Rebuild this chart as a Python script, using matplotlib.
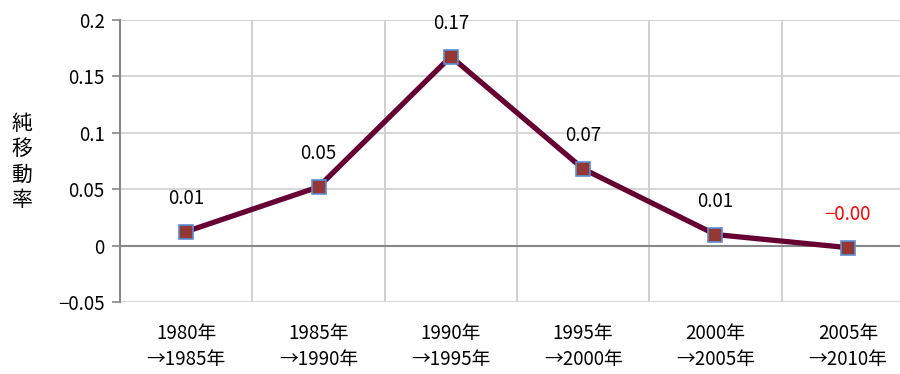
import matplotlib
matplotlib.use('Agg')
import matplotlib.pyplot as plt
import numpy as np

plt.rcParams['font.family'] = ['Noto Sans CJK JP', 'DejaVu Sans']

# Net migration rate by five-year period.
periods = ['1980年\n→1985年', '1985年\n→1990年', '1990年\n→1995年',
           '1995年\n→2000年', '2000年\n→2005年', '2005年\n→2010年']
rates = [0.0124, 0.052, 0.1676, 0.068, 0.0098, -0.0018]
labels = ['0.01', '0.05', '0.17', '0.07', '0.01', '\u22120.00']
label_colors = ['black', 'black', 'black', 'black', 'black', 'red']
yticks = [-0.05, 0, 0.05, 0.1, 0.15, 0.2]
ytick_labels = ['\u22120.05', '0', '0.05', '0.1', '0.15', '0.2']

fig = plt.figure(figsize=(9, 3.74), dpi=100)
ax = fig.add_axes([120 / 900, 72 / 374, 794 / 900, 282 / 374])

x = np.arange(len(periods))
ax.set_xlim(-0.5, len(periods) - 0.5)
ax.set_ylim(-0.05, 0.2)

# Grid lines between categories and at each y tick.
for b in np.arange(0.5, len(periods) - 0.5, 1):
    ax.axvline(b, color='#c8c8c8', lw=1.2, zorder=1)
for yv in yticks:
    ax.axhline(yv, color='#d0d0d0', lw=1.2, zorder=1)
ax.axhline(0, color='#888888', lw=1.5, zorder=2)

ax.plot(x, rates, color='#660033', lw=3.8, zorder=3,
        marker='s', markersize=10, markerfacecolor='#953735',
        markeredgecolor='#5b8fd0', markeredgewidth=1.2)

for xi, v, t, c in zip(x, rates, labels, label_colors):
    ax.annotate(t, (xi, v), xytext=(0, 24), textcoords='offset points',
                ha='center', va='center', fontsize=13.5, color=c)

for s in ['top', 'right', 'bottom']:
    ax.spines[s].set_visible(False)
ax.spines['left'].set_color('#888888')
ax.spines['left'].set_linewidth(1.5)

ax.set_yticks(yticks)
ax.set_yticklabels(ytick_labels, fontsize=13.5)
ax.tick_params(axis='y', length=6, width=1.2, color='#888888', pad=5)
ax.set_xticks(x)
ax.set_xticklabels(periods, fontsize=13.5, linespacing=1.35)
ax.tick_params(axis='x', length=0, pad=15)

fig.text(22 / 900, 1 - 162 / 374, '\n'.join('純移動率'), ha='center',
         va='center', fontsize=15, linespacing=1.2)

fig.savefig('out.png', dpi=100)
